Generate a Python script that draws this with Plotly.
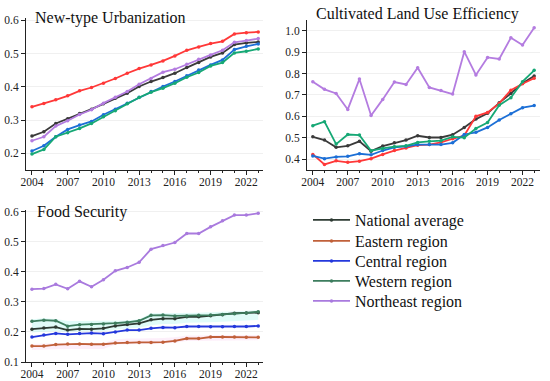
import plotly.graph_objects as go

years = list(range(2004, 2024))
series_names = ["National average", "Eastern region", "Central region", "Western region", "Northeast region"]

# New-type Urbanization
urb_national = [0.252, 0.265, 0.290, 0.304, 0.320, 0.333, 0.349, 0.366, 0.381, 0.401, 0.416, 0.428, 0.441, 0.458, 0.473, 0.490, 0.502, 0.527, 0.532, 0.535]
urb_eastern = [0.340, 0.350, 0.361, 0.373, 0.388, 0.398, 0.411, 0.425, 0.441, 0.455, 0.466, 0.478, 0.493, 0.510, 0.520, 0.530, 0.537, 0.559, 0.563, 0.565]
urb_central = [0.207, 0.223, 0.250, 0.272, 0.285, 0.296, 0.316, 0.333, 0.351, 0.369, 0.386, 0.401, 0.416, 0.433, 0.451, 0.466, 0.481, 0.512, 0.522, 0.529]
urb_western = [0.198, 0.212, 0.250, 0.262, 0.275, 0.290, 0.310, 0.328, 0.349, 0.368, 0.384, 0.396, 0.411, 0.429, 0.443, 0.463, 0.473, 0.502, 0.507, 0.514]
urb_northeast = [0.238, 0.250, 0.282, 0.298, 0.317, 0.331, 0.351, 0.369, 0.386, 0.408, 0.425, 0.444, 0.453, 0.468, 0.483, 0.496, 0.510, 0.534, 0.539, 0.545]

# Cultivated Land Use Efficiency
cle_national = [0.504, 0.489, 0.455, 0.462, 0.483, 0.437, 0.461, 0.476, 0.489, 0.509, 0.501, 0.501, 0.514, 0.548, 0.587, 0.614, 0.663, 0.707, 0.754, 0.788]
cle_eastern = [0.422, 0.375, 0.392, 0.385, 0.390, 0.402, 0.422, 0.440, 0.452, 0.465, 0.468, 0.478, 0.495, 0.510, 0.600, 0.618, 0.660, 0.722, 0.752, 0.778]
cle_central = [0.415, 0.402, 0.410, 0.413, 0.425, 0.420, 0.440, 0.455, 0.460, 0.468, 0.468, 0.468, 0.476, 0.515, 0.525, 0.548, 0.583, 0.612, 0.640, 0.650]
cle_western = [0.556, 0.575, 0.470, 0.515, 0.512, 0.439, 0.450, 0.458, 0.462, 0.478, 0.483, 0.486, 0.504, 0.500, 0.543, 0.571, 0.652, 0.687, 0.762, 0.815]
cle_northeast = [0.762, 0.726, 0.707, 0.632, 0.774, 0.604, 0.679, 0.760, 0.749, 0.827, 0.735, 0.720, 0.704, 0.902, 0.793, 0.875, 0.868, 0.967, 0.933, 1.014]

# Food Security
fs_national = [0.209, 0.213, 0.216, 0.206, 0.210, 0.209, 0.212, 0.220, 0.225, 0.228, 0.240, 0.244, 0.244, 0.250, 0.250, 0.254, 0.257, 0.262, 0.263, 0.264]
fs_eastern = [0.153, 0.153, 0.158, 0.160, 0.160, 0.159, 0.159, 0.163, 0.165, 0.165, 0.165, 0.166, 0.170, 0.178, 0.178, 0.183, 0.183, 0.183, 0.182, 0.182]
fs_central = [0.183, 0.190, 0.195, 0.192, 0.195, 0.196, 0.194, 0.200, 0.206, 0.206, 0.212, 0.215, 0.214, 0.218, 0.218, 0.217, 0.217, 0.218, 0.218, 0.220]
fs_western = [0.235, 0.239, 0.237, 0.219, 0.224, 0.225, 0.226, 0.229, 0.232, 0.237, 0.255, 0.256, 0.253, 0.253, 0.255, 0.256, 0.258, 0.260, 0.263, 0.267]
fs_northeast = [0.342, 0.344, 0.358, 0.343, 0.368, 0.350, 0.373, 0.403, 0.414, 0.431, 0.475, 0.487, 0.497, 0.527, 0.527, 0.549, 0.569, 0.588, 0.588, 0.594]

# faint shaded bands seen behind the Food Security lines (estimated)
fs_cyan_hi = [0.242, 0.245, 0.243, 0.236, 0.236, 0.236, 0.236, 0.237, 0.238, 0.242, 0.262, 0.262, 0.262, 0.262, 0.264, 0.265, 0.266, 0.268, 0.270, 0.272]
fs_cyan_lo = [0.198, 0.200, 0.203, 0.200, 0.202, 0.203, 0.203, 0.208, 0.212, 0.214, 0.222, 0.226, 0.226, 0.230, 0.230, 0.232, 0.234, 0.236, 0.238, 0.240]
fs_pink_hi = [0.160, 0.160, 0.162, 0.163, 0.163, 0.163, 0.163, 0.175, 0.178, 0.178, 0.178, 0.180, 0.182, 0.188, 0.188, 0.190, 0.190, 0.190, 0.190, 0.190]
fs_pink_lo = [0.140, 0.140, 0.142, 0.143, 0.143, 0.143, 0.143, 0.158, 0.160, 0.160, 0.160, 0.161, 0.164, 0.170, 0.170, 0.172, 0.172, 0.172, 0.172, 0.172]

x_ticks = [2004, 2007, 2010, 2013, 2016, 2019, 2022]

top_colors = ["#3a3a3a", "#ff3838", "#1c6fd6", "#16a875", "#b47ce0"]
fs_colors = ["#2e3b33", "#c0603a", "#2438dc", "#3d7d5e", "#a97ade"]

FONT = "Liberation Serif, Times New Roman, Times, serif"

W, H = 550, 381
legend_rows = [220, 241, 261, 281, 301]  # pixel centres of legend rows
legend_ids = ["legend", "legend2", "legend3", "legend4", "legend5"]

fig = go.Figure()

# shaded bands (drawn first, underneath lines)
for hi, lo, col in [(fs_cyan_hi, fs_cyan_lo, "rgba(200,250,244,0.55)"),
                    (fs_pink_hi, fs_pink_lo, "rgba(252,225,245,0.55)")]:
    fig.add_trace(go.Scatter(x=years, y=lo, mode="lines", line=dict(width=0, color=col),
                             xaxis="x3", yaxis="y3", showlegend=False, hoverinfo="skip"))
    fig.add_trace(go.Scatter(x=years, y=hi, mode="lines", line=dict(width=0, color=col),
                             fill="tonexty", fillcolor=col,
                             xaxis="x3", yaxis="y3", showlegend=False, hoverinfo="skip"))

panels = [
    ("x", "y", [urb_national, urb_eastern, urb_central, urb_western, urb_northeast], top_colors, False),
    ("x2", "y2", [cle_national, cle_eastern, cle_central, cle_western, cle_northeast], top_colors, False),
    ("x3", "y3", [fs_national, fs_eastern, fs_central, fs_western, fs_northeast], fs_colors, True),
]

for xa, ya, data, colors, show in panels:
    for i, (name, vals, col) in enumerate(zip(series_names, data, colors)):
        fig.add_trace(go.Scatter(
            x=years, y=vals, name=name, mode="lines+markers",
            line=dict(color=col, width=1.8),
            marker=dict(size=3.5, color=col, symbol="circle"),
            xaxis=xa, yaxis=ya, showlegend=show, legend=legend_ids[i],
        ))

axis_common = dict(
    showline=True, linecolor="#222", linewidth=1, ticks="outside", ticklen=4,
    tickcolor="#222", tickfont=dict(family=FONT, size=11.5, color="#222"),
    zeroline=False, mirror=False, automargin=False,
)
xcommon = dict(axis_common, tickvals=x_ticks, showgrid=False, ticklabelstandoff=-3,
               minor=dict(ticks="outside", ticklen=2, dtick=1, tickcolor="#222"))
ycommon = dict(axis_common, showgrid=True, gridcolor="#f0f0f0", gridwidth=1)

def dx(a, b):
    return [a / W, b / W]
def dy(top, bottom):
    return [1 - bottom / H, 1 - top / H]

legend_layout = {}
for lid, row in zip(legend_ids, legend_rows):
    legend_layout[lid] = dict(x=308 / W, y=1 - row / H, xanchor="left", yanchor="middle",
                              font=dict(family=FONT, size=16, color="#111"),
                              bgcolor="rgba(0,0,0,0)", borderwidth=0, itemwidth=37)

fig.update_layout(
    width=W, height=H,
    margin=dict(l=0, r=0, t=0, b=0, autoexpand=False),
    paper_bgcolor="white", plot_bgcolor="white",
    font=dict(family=FONT, color="#111"),
    xaxis=dict(xcommon, domain=dx(26, 263), range=[2003.5, 2023.4], anchor="y"),
    yaxis=dict(ycommon, domain=dy(18, 170), range=[0.15, 0.607], tickvals=[0.2, 0.3, 0.4, 0.5, 0.6], tickformat=".1f", anchor="x"),
    xaxis2=dict(xcommon, domain=dx(307, 540), range=[2003.5, 2023.5], anchor="y2"),
    yaxis2=dict(ycommon, domain=dy(20, 170), range=[0.349, 1.05], tickvals=[0.4, 0.5, 0.6, 0.7, 0.8, 0.9, 1.0], tickformat=".1f", anchor="x2"),
    xaxis3=dict(xcommon, domain=dx(26, 263), range=[2003.5, 2023.4], anchor="y3"),
    yaxis3=dict(ycommon, domain=dy(210, 362), range=[0.1, 0.605], tickvals=[0.1, 0.2, 0.3, 0.4, 0.5, 0.6], tickformat=".1f", anchor="x3"),
    annotations=[
        dict(text="New-type Urbanization", x=33 / W, y=1 - 18 / H, xref="paper", yref="paper",
             xanchor="left", yanchor="middle", showarrow=False, font=dict(family=FONT, size=16, color="#111")),
        dict(text="Cultivated Land Use Efficiency", x=417 / W, y=1 - 14 / H, xref="paper", yref="paper",
             xanchor="center", yanchor="middle", showarrow=False, font=dict(family=FONT, size=16, color="#111")),
        dict(text="Food Security", x=35 / W, y=1 - 212 / H, xref="paper", yref="paper",
             xanchor="left", yanchor="middle", showarrow=False, font=dict(family=FONT, size=16, color="#111")),
    ],
    **legend_layout,
)

fig.write_html("out.html", config={"displayModeBar": False},
               post_script="document.body.style.margin='0';document.body.style.padding='0';")
